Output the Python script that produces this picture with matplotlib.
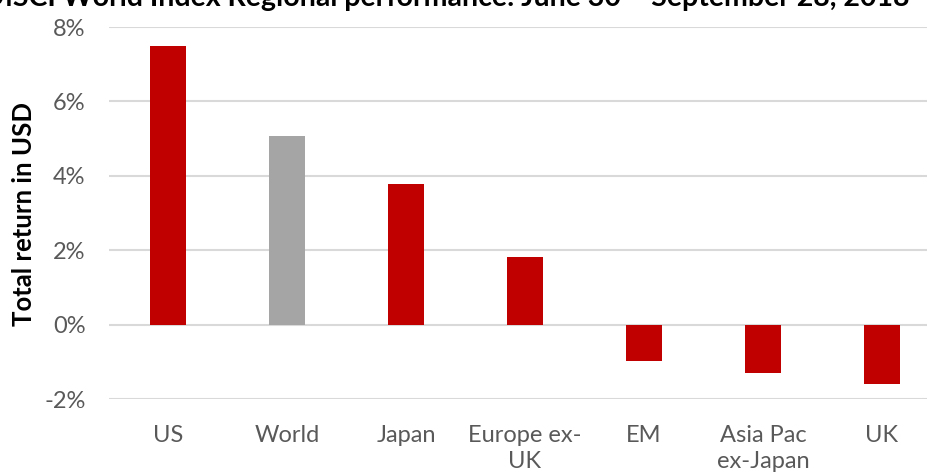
import matplotlib
matplotlib.use("Agg")
import matplotlib.pyplot as plt
from matplotlib.ticker import FuncFormatter

categories = ["US", "World", "Japan", "Europe ex-\nUK", "EM", "Asia Pac\nex-Japan", "UK"]
values = [7.5, 5.08, 3.77, 1.82, -0.99, -1.29, -1.61]
bar_colors = ["#C00000", "#A5A5A5", "#C00000", "#C00000", "#C00000", "#C00000", "#C00000"]
yticks = [-2, 0, 2, 4, 6, 8]
title = "MSCI World Index Regional performance: June 30 – September 28, 2018"
ylabel = "Total return in USD"

plt.rcParams['font.family'] = ['Lato', 'DejaVu Sans']

W, H = 927, 476
fig = plt.figure(figsize=(W/100, H/100), dpi=100)
ax = fig.add_axes([108.5/W, 1 - 399/H, (927 - 108.5)/W, (399 - 27)/H])

x = list(range(len(categories)))
ax.bar(x, values, width=0.31, color=bar_colors, zorder=3)
ax.set_xlim(-0.5, (927 - 168) / 119.0)
ax.set_ylim(-2, 8)
ax.set_yticks(yticks)
ax.yaxis.set_major_formatter(FuncFormatter(lambda v, p: f"{v:.0f}%"))
ax.grid(axis='y', color='#D9D9D9', linewidth=1.5, zorder=0)
for s in ax.spines.values():
    s.set_visible(False)
ax.tick_params(axis='both', length=0, labelsize=17, labelcolor='#595959')
ax.tick_params(axis='y', pad=16.5)
ax.set_xticks(x)
ax.set_xticklabels(categories, linespacing=1.3)
ax.tick_params(axis='x', pad=19)

fig.text(24/W, 1 - 214/H, ylabel, rotation=90, fontsize=18.5, fontweight='bold',
         color='#000000', ha='center', va='center')

fig.text(-0.0147, 1 - 6/H, title, fontsize=20.5, fontweight='bold', va='baseline', ha='left')

fig.savefig("out.png", dpi=100)
